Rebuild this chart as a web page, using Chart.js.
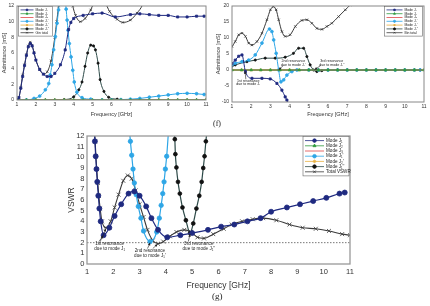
<!DOCTYPE html>
<html><head><meta charset="utf-8">
<script src="https://cdn.jsdelivr.net/npm/chart.js@4.4.1/dist/chart.umd.min.js"></script>
<style>
html,body{margin:0;padding:0;background:#fff;}
body{width:430px;height:306px;position:relative;overflow:hidden;}
canvas{position:absolute;}
.cap{position:absolute;font-family:"Liberation Serif",serif;color:#222;}
</style></head><body>
<canvas id="c1" width="214" height="122" style="left:0;top:0"></canvas>
<canvas id="c2" width="216" height="122" style="left:214px;top:0"></canvas>
<canvas id="c3" width="300" height="168" style="left:58px;top:128px"></canvas>
<div class="cap" style="left:213px;top:119px;font-size:8px">(f)</div>
<div class="cap" style="left:212px;top:291px;font-size:9px">(g)</div>
<script>
// ---- data: (f) left, real part of admittance [mS]
const zeroF = [1,1.5,2,2.5,3,3.5,4,4.5,5,5.5,6,6.5,7,7.5,8,8.5,9,9.5,10,10.5,11];
const zeroV = [0,0,0,0,0,0,0,0,0,0,0,0,0,0,0,0,0,0,0,0,0];

const gJ1F = [1.0,1.1,1.2,1.3,1.4,1.5,1.6,1.7,1.8,1.9,2.0,2.2,2.4,2.6,2.8,3.0,3.3,3.55,3.73,3.85,4.0,4.5,5.0,5.5,6.2,7.0,7.5,8.0,8.5,9.0,9.5,10.0,10.5,10.9];
const gJ1  = [0,0.3,1.5,3.0,4.4,5.7,6.8,7.2,6.9,6.0,5.1,3.9,3.3,3.0,3.0,3.4,4.5,6.4,9.0,9.9,10.4,10.8,11.0,11.1,10.6,10.9,11.0,10.9,10.8,10.8,10.6,10.6,10.7,10.7];
const gJ1pF = [1.0,1.5,1.9,2.2,2.5,2.68,2.76,2.85,2.94,3.03,3.12,3.2,3.35,3.5,3.6,3.65,3.7,3.77,3.86,3.95,4.03,4.17,4.44,4.9,5.5,6.0,6.5,7.0,7.5,8.0,8.5,9.0,9.5,10.0,10.5,10.9];
const gJ1p  = [0,0,0.2,0.5,1.3,2.1,3.2,4.5,6.4,8.1,9.8,11.5,15,14,11.6,10.2,8.9,7.2,5.5,3.8,2.3,1.0,0.3,0.1,0,0,0.05,0.1,0.2,0.35,0.5,0.65,0.8,0.85,0.8,0.7];
const gJ1ppF = [1.0,1.5,2.0,2.5,3.0,3.5,4.0,4.27,4.44,4.6,4.74,4.9,5.05,5.15,5.29,5.4,5.6,5.85,6.3,7.0,7.5,8.0,8.5,9.0,9.5,10.0,10.5,11.0];
const gJ1pp  = [0,0,0,0,0,0.05,0.4,1.3,2.3,4.3,6.0,7.0,6.9,6.4,4.7,2.6,1.1,0.35,0.1,0,0,0,0,0,0,0,0,0];
const gTotF = [1.0,1.1,1.2,1.3,1.4,1.5,1.6,1.7,1.8,1.9,2.0,2.2,2.4,2.6,2.8,3.0,3.1,3.2,3.35,3.6,3.8,3.95,4.1,4.35,4.6,4.9,5.1,5.4,5.65,5.9,6.3,6.6,7.0,7.35,7.65,8.0];
const gTot  = [0,0.3,1.6,3.2,4.5,5.8,6.9,7.4,7.0,6.1,5.1,3.9,3.3,3.6,5.0,8.0,10.0,12.0,16,18,14,12,10.8,10.0,10.4,11.5,12.6,14,12.6,11.3,10.3,9.9,10.2,11.1,12.2,15];

// ---- data: (f) right, imaginary part of admittance [mS]
const bJ1F = [1.0,1.17,1.35,1.52,1.7,2.04,2.56,2.99,3.34,3.6,3.77,3.86,4.0];
const bJ1  = [2.0,3.1,4.3,4.7,-0.5,-2.6,-2.6,-2.8,-4.2,-6.3,-8.4,-9.4,-11];
const bJ1pF = [1.0,1.17,1.52,1.87,2.21,2.56,2.95,3.08,3.17,3.3,3.43,3.55,3.69,3.86,4.12,4.38,5.0,5.5,6.0,6.5,7.0,7.5,8.0,8.5,9.0,9.5,10.0,10.5,10.8];
const bJ1p  = [1.6,2.1,2.6,3.1,4.7,8.4,12.8,12.0,9.4,5.2,0,-3.7,-3.1,-1.6,-0.5,0,0,0,0,0,0,0,0,0,0,0,0,0,0];
const bJ1ppF = [1.0,1.17,1.78,2.21,2.73,3.25,3.77,4.2,4.47,4.73,4.9,5.07,5.25,5.42,5.68,6.0,6.5,7.0,7.5,8.0,8.5,9.0,9.5,10.0,10.5,10.8];
const bJ1pp  = [1.2,1.6,2.6,3.1,3.7,3.7,4.0,5.2,6.8,6.8,4.2,1.6,0,-0.5,-0.2,0,0,0,0,0,0,0,0,0,0,0];
const bTotF = [1.0,1.17,1.35,1.52,1.7,1.87,2.04,2.3,2.56,2.82,3.0,3.15,3.3,3.43,3.6,3.77,4.03,4.3,4.64,4.9,5.16,5.42,5.68,5.94,6.2,6.55,6.9,7.15,7.5];
const bTot  = [7.3,8.9,11.0,11.5,10.5,8.4,7.8,8.9,11.5,15.7,18.8,19.8,18.8,15.7,12.0,10.5,11.0,13.6,15.5,15.7,14.6,13.0,12.7,13.6,14.6,16.7,18.8,20.3,23];

// ---- data: (g) VSWR
const vJ1F = [1.27,1.30,1.33,1.36,1.39,1.43,1.47,1.52,1.63,1.85,2.05,2.3,2.58,2.8,3.0,3.25,3.45,3.7,4.05,4.55,5.0,5.6,6.1,6.6,7.1,7.6,8.0,8.6,9.1,9.6,10.1,10.6,10.8];
const vJ1  = [13,11.5,10.1,8.9,7.7,6.4,5.2,4.0,2.7,3.4,4.5,5.6,6.6,6.8,6.4,5.4,4.3,3.2,2.5,2.7,2.9,3.2,3.5,3.7,4.0,4.3,4.9,5.3,5.6,5.9,6.2,6.6,6.7];
const vJ1pF = [2.6,2.65,2.7,2.75,2.8,2.87,2.95,3.05,3.15,3.4,3.65,3.75,3.82,3.88,3.93,3.98,4.03,4.1];
const vJ1p  = [13,11.5,10.2,8.9,7.6,6.5,5.4,4.3,3.1,2.1,3.0,4.3,5.5,6.6,7.7,8.9,10.1,12.5];
const vJ1ppF = [4.3,4.34,4.36,4.4,4.46,4.53,4.63,4.76,4.92,5.04,5.16,5.27,5.36,5.42,5.47,5.52,5.58];
const vJ1pp  = [13,11.7,10.3,9.05,7.7,6.6,5.3,4.1,2.9,3.8,5.2,6.4,7.7,9.0,10.1,11.5,13];
const vTotF = [1.28,1.31,1.34,1.37,1.41,1.45,1.5,1.57,1.72,1.9,2.05,2.2,2.38,2.55,2.7,2.85,3.0,3.15,3.3,3.5,3.7,3.9,4.15,4.4,4.7,4.95,5.2,5.45,5.8,6.2,6.5,6.9,7.3,7.7,8.2,8.7,9.2,9.7,10.2,10.7,11.0];
const vTot  = [13,11.5,10.1,8.9,7.6,6.4,5.2,4.0,3.4,4.0,5.3,6.5,7.8,8.3,8.0,6.9,5.6,4.4,3.2,2.2,1.9,2.1,2.6,3.0,3.2,3.0,2.5,2.4,2.8,3.3,3.7,4.0,4.2,4.3,4.1,3.7,3.4,3.3,3.1,2.8,2.7];
const refF = [1, 11];
const refV = [2, 2];

const modeLabels = ['Mode J\u2081','Mode J\u2082','Mode J\u2083',"Mode J\u2081'","Mode J\u2082'","Mode J\u2081''"];

// ---- styles
const NAVY='#1f2a80', GREEN='#2e9a3e', RED='#e04848', LBLUE='#2ea6e6', YEL='#e8b040', DARK='#2d4a48', TOT='#3a3a3a';
Chart.defaults.font.family = '"Liberation Sans", Arial, sans-serif';
Chart.defaults.color = '#333';

function series(label, fs, vs, color, ps, r, mk, extra) {
  return Object.assign({
    label, data: fs.map((f, i) => ({x: f, y: vs[i]})),
    borderColor: color, borderWidth: 1, pointStyle: ps || false, pointRadius: ps ? r : 0,
    pointBackgroundColor: mk || color, pointBorderColor: mk || color, pointBorderWidth: 0.8,
    tension: 0.4, cubicInterpolationMode: 'monotone', capBezierPoints: false, fill: false
  }, extra || {});
}

function arrow(ctx, x1, y1, x2, y2) {
  ctx.beginPath(); ctx.moveTo(x1, y1); ctx.lineTo(x2, y2); ctx.stroke();
  const a = Math.atan2(y2 - y1, x2 - x1), h = 3;
  ctx.beginPath(); ctx.moveTo(x2, y2);
  ctx.lineTo(x2 - h * Math.cos(a - 0.45), y2 - h * Math.sin(a - 0.45));
  ctx.lineTo(x2 - h * Math.cos(a + 0.45), y2 - h * Math.sin(a + 0.45));
  ctx.closePath(); ctx.fill();
}

function marker(ctx, ds, x, y, r) {
  if (!ds.pointStyle) return;
  ctx.fillStyle = ds.pointBackgroundColor; ctx.strokeStyle = ds.pointBorderColor; ctx.lineWidth = 0.8;
  if (Chart.helpers && Chart.helpers.drawPoint) {
    Chart.helpers.drawPoint(ctx, {pointStyle: ds.pointStyle, radius: r, rotation: 0, borderWidth: 0.8}, x, y);
  } else { ctx.beginPath(); ctx.arc(x, y, r, 0, 7); ctx.fill(); }
}

// frame, notes and boxed legend drawn over the plot
const decor = {
  id: 'decor',
  afterDraw(chart, args, o) {
    const ctx = chart.ctx, a = chart.chartArea, sx = chart.scales.x, sy = chart.scales.y;
    ctx.save();
    // notes
    ctx.font = o.noteSize + 'px "Liberation Sans", Arial';
    ctx.fillStyle = '#222'; ctx.strokeStyle = '#222'; ctx.lineWidth = 0.6;
    ctx.textAlign = 'center'; ctx.textBaseline = 'middle';
    (o.notes || []).forEach(n => {
      const px = sx.getPixelForValue(n.x), py = sy.getPixelForValue(n.y);
      n.text.forEach((t, i) => ctx.fillText(t, px, py + (i - (n.text.length - 1) / 2) * o.noteSize * 1.05));
      n.arrows.forEach(p => arrow(ctx, sx.getPixelForValue(p[0]), sy.getPixelForValue(p[1]), sx.getPixelForValue(p[2]), sy.getPixelForValue(p[3])));
    });
    // frame
    ctx.strokeStyle = o.frameColor; ctx.lineWidth = o.frameWidth;
    ctx.strokeRect(a.left, a.top, a.right - a.left, a.bottom - a.top);
    // legend
    const L = o.legend, items = chart.data.datasets.filter(d => !d.noLegend);
    const bx = L.side === 'left' ? a.left + L.dx : a.right - L.dx - L.w, by = a.top + L.dy;
    const bh = items.length * L.row + 3;
    ctx.fillStyle = '#fff'; ctx.fillRect(bx, by, L.w, bh);
    ctx.strokeStyle = '#666'; ctx.lineWidth = 0.6; ctx.strokeRect(bx, by, L.w, bh);
    ctx.font = L.size + 'px "Liberation Sans", Arial'; ctx.textAlign = 'left';
    items.forEach((d, i) => {
      const cy = by + 1.5 + L.row * (i + 0.5);
      ctx.strokeStyle = d.borderColor; ctx.lineWidth = 0.8;
      ctx.beginPath(); ctx.moveTo(bx + 2, cy); ctx.lineTo(bx + 2 + L.line, cy); ctx.stroke();
      marker(ctx, d, bx + 2 + L.line / 2, cy, L.mr);
      ctx.fillStyle = '#222'; ctx.fillText(d.label, bx + 4 + L.line, cy);
    });
    ctx.restore();
  }
};

function axes(o) {
  return {
    x: {type: 'linear', min: 1, max: 11, afterFit: s => { s.height = o.xh; },
      ticks: {stepSize: 1, autoSkip: false, maxRotation: 0, padding: o.xp, font: {size: o.tf}},
      grid: {display: false, drawTicks: false}, border: {display: false},
      title: {display: true, text: 'Frequency [GHz]', font: {size: o.af}, padding: {top: 0, bottom: o.xtp}}},
    y: {type: 'linear', min: o.ymin, max: o.ymax, afterFit: s => { s.width = o.yw; },
      ticks: {stepSize: o.ystep, autoSkip: false, padding: o.yp, font: {size: o.tf}},
      grid: {display: false, drawTicks: false}, border: {display: false},
      title: {display: true, text: o.ytitle, font: {size: o.af}, padding: {top: o.ytp, bottom: 0}}}
  };
}

function makeChart(id, datasets, ax, pad, dec) {
  return new Chart(document.getElementById(id), {
    type: 'line',
    data: {datasets},
    options: {responsive: false, animation: false, devicePixelRatio: 1,
      layout: {padding: pad},
      scales: axes(ax),
      plugins: {legend: {display: false}, tooltip: {enabled: false}, decor: dec}},
    plugins: [decor]
  });
}

// ---- chart (f) left
makeChart('c1', [
  series(modeLabels[0], gJ1F, gJ1, NAVY, 'rect', 1.5),
  series(modeLabels[1], zeroF, zeroV, GREEN, 'triangle', 1.5),
  series(modeLabels[2], zeroF, zeroV, RED, false, 0),
  series(modeLabels[3], gJ1pF, gJ1p, LBLUE, 'circle', 1.4),
  series(modeLabels[4], zeroF, zeroV, YEL, 'star', 1.5),
  series(modeLabels[5], gJ1ppF, gJ1pp, DARK, 'circle', 1.1, '#111'),
  series('Gin total', gTotF, gTot, TOT, 'crossRot', 1.6)
], {xh: 22, xp: 2, tf: 5, af: 5.5, xtp: 4, ymin: 0, ymax: 12, ystep: 2, yw: 17, yp: 3, ytitle: 'Admittance [mS]', ytp: 1.5},
 {top: 6, right: 8, left: 0, bottom: 0},
 {frameColor: '#888', frameWidth: 1, noteSize: 4, notes: [],
  legend: {side: 'left', dx: 1.5, dy: 0.5, w: 34, row: 3.8, size: 3.4, line: 13, mr: 1.1}});

// ---- chart (f) right
makeChart('c2', [
  series(modeLabels[0], bJ1F, bJ1, NAVY, 'rect', 1.5),
  series(modeLabels[1], zeroF, zeroV, GREEN, 'triangle', 1.5),
  series(modeLabels[2], zeroF, zeroV, RED, false, 0),
  series(modeLabels[3], bJ1pF, bJ1p, LBLUE, 'circle', 1.4),
  series(modeLabels[4], zeroF, zeroV, YEL, 'star', 1.5),
  series(modeLabels[5], bJ1ppF, bJ1pp, DARK, 'circle', 1.1, '#111'),
  series('Bin total', bTotF, bTot, TOT, 'crossRot', 1.6)
], {xh: 20, xp: 2, tf: 5, af: 5.5, xtp: 4, ymin: -10, ymax: 20, ystep: 5, yw: 18, yp: 3, ytitle: 'Admittance [mS]', ytp: 1.5},
 {top: 6, right: 6, left: 0, bottom: 0},
 {frameColor: '#888', frameWidth: 1, noteSize: 3.6, notes: [
    {x: 1.85, y: -3.9, text: ['1st resonance', 'due to mode J\u2081'], arrows: [[1.72, -2.9, 1.68, -0.4]]},
    {x: 4.2, y: 2.3, text: ['2nd resonance', "due to mode J\u2081'"], arrows: [[3.68, 1.4, 3.43, 0.1]]},
    {x: 6.2, y: 2.3, text: ['3rd resonance', "due to mode J\u2081''"], arrows: [[5.62, 1.4, 5.3, 0.1]]}],
  legend: {side: 'right', dx: 1.5, dy: 0.5, w: 38, row: 3.8, size: 3.4, line: 16, mr: 1.1}});

// ---- chart (g)
makeChart('c3', [
  series(modeLabels[0], vJ1F, vJ1, NAVY, 'circle', 2.5, null, {borderWidth: 1.2}),
  series(modeLabels[1], [], [], GREEN, 'triangle', 2),
  series(modeLabels[2], [], [], RED, false, 0),
  series(modeLabels[3], vJ1pF, vJ1p, LBLUE, 'circle', 2.2, null, {borderWidth: 1.2}),
  series(modeLabels[4], [], [], YEL, 'star', 2),
  series(modeLabels[5], vJ1ppF, vJ1pp, DARK, 'circle', 1.9, '#111', {borderWidth: 1.2}),
  series('Total VSWR', vTotF, vTot, TOT, 'crossRot', 2.8, null, {borderWidth: 1.1}),
  series('', refF, refV, '#777', false, 0, null, {noLegend: true, borderDash: [1.5, 1.5], borderWidth: 1, tension: 0})
], {xh: 32, xp: 3.5, tf: 7.5, af: 8.5, xtp: 5, ymin: 0, ymax: 12, ystep: 1, yw: 29, yp: 2.5, ytitle: 'VSWR', ytp: 8.5},
 {top: 8, right: 8, left: 0, bottom: 0},
 {frameColor: '#999', frameWidth: 1.3, noteSize: 4.6, notes: [
    {x: 1.86, y: 1.65, text: ['1st resonance', 'due to mode J\u2081'], arrows: [[1.45, 2.1, 1.62, 2.65], [1.5, 2.1, 1.72, 3.3]]},
    {x: 3.39, y: 1.0, text: ['2nd resonance', "due to mode J\u2081'"], arrows: [[3.3, 1.45, 3.4, 2.0], [3.5, 1.45, 3.68, 1.85]]},
    {x: 5.25, y: 1.65, text: ['3rd resonance', "due to mode J\u2081''"], arrows: [[4.85, 2.1, 4.92, 2.8]]}],
  legend: {side: 'right', dx: 1, dy: 0.5, w: 46, row: 5.2, size: 4.6, line: 19, mr: 1.8}});
</script></body></html>
